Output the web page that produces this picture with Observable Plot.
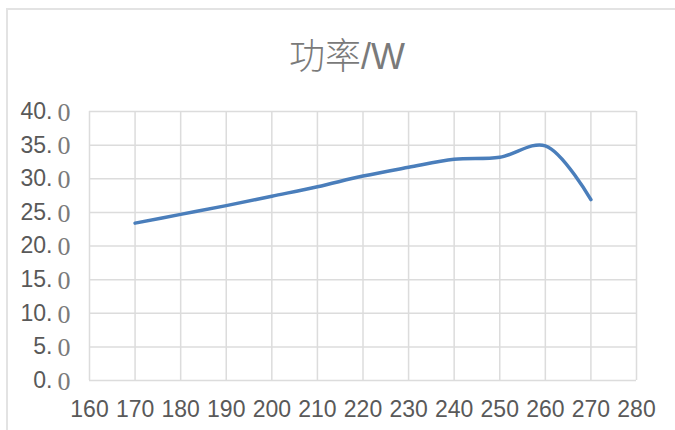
<!DOCTYPE html>
<html>
<head>
<meta charset="utf-8">
<script src="https://cdn.jsdelivr.net/npm/d3@7"></script>
<script src="https://cdn.jsdelivr.net/npm/@observablehq/plot@0.6"></script>
<style>
  body { margin: 0; background: #fff; }
  #wrap { position: relative; width: 675px; height: 430px; overflow: hidden; }
  #box { position: absolute; left: 6px; top: 8px; width: 700px; height: 460px; border: 2px solid #e3e3e3; box-sizing: border-box; }
  #title { position: absolute; left: 0; top: 35px; width: 694px; text-align: center; font-family: "Noto Sans CJK SC", "Liberation Sans", sans-serif; font-weight: 300; font-size: 36px; line-height: 1; color: #7a7a7a; }
  #title .w { font-family: "Liberation Sans", Arial, sans-serif; }
  #chart { position: absolute; left: 0; top: 95px; }
</style>
</head>
<body>
<div id="wrap">
  <div id="box"></div>
  <div id="title">功率<span class="w">/W</span></div>
  <div id="chart"></div>
</div>
<script>
const temperature = [170, 180, 190, 200, 210, 220, 230, 240, 250, 260, 270];
const power = [23.4, 24.7, 26.0, 27.4, 28.8, 30.4, 31.7, 32.9, 33.2, 34.9, 26.9];
const xTicks = [160, 170, 180, 190, 200, 210, 220, 230, 240, 250, 260, 270, 280];
const yTicks = [0, 5, 10, 15, 20, 25, 30, 35, 40];

const data = temperature.map((t, i) => ({t, p: power[i]}));
const gridColor = "#dcdcdc";
const labelColor = "#595959";

const chart = Plot.plot({
  width: 675,
  height: 335,
  marginTop: 16,
  marginBottom: 50,
  marginLeft: 89,
  marginRight: 39,
  style: {fontFamily: "'Liberation Sans', Arial, sans-serif", fontSize: "23px", color: labelColor, background: "transparent"},
  x: {domain: [160, 280], ticks: xTicks},
  y: {domain: [0, 40], ticks: yTicks},
  marks: [
    Plot.gridX(xTicks, {stroke: gridColor, strokeOpacity: 1, strokeWidth: 1.5}),
    Plot.gridY(yTicks, {stroke: gridColor, strokeOpacity: 1, strokeWidth: 1.5}),
    Plot.axisX(xTicks, {tickSize: 0, tickPadding: 20, label: null, fill: labelColor, fontSize: 23}),
    Plot.axisY(yTicks, {tickSize: 0, tickPadding: 37, label: null, tickFormat: d => d + ".", fill: labelColor, fontSize: 23}),
    Plot.text(yTicks, {y: d => d, text: () => "0", frameAnchor: "left", dx: -19, dy: 1, textAnchor: "end", fill: "#7a7a7a", fontSize: 26, fontFamily: "'Liberation Serif', serif"}),
    Plot.line(data, {x: "t", y: "p", curve: "catmull-rom", stroke: "#4a7ebb", strokeWidth: 3.5})
  ]
});
document.getElementById("chart").appendChild(chart);
</script>
</body>
</html>
